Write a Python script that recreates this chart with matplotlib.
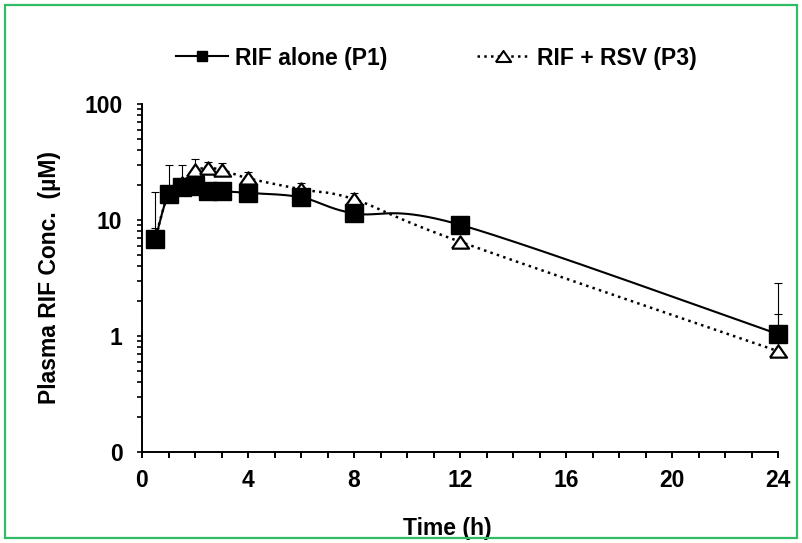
import matplotlib
matplotlib.use("Agg")
import matplotlib.pyplot as plt
import numpy as np
from matplotlib.lines import Line2D
from matplotlib.patches import Rectangle
from matplotlib.ticker import FixedLocator, FixedFormatter, LogLocator, NullFormatter

plt.rcParams["font.family"] = ["Liberation Sans", "DejaVu Sans"]
plt.rcParams["font.weight"] = "bold"

# sampling times (h)
time_h = [0.5, 1, 1.5, 2, 2.5, 3, 4, 6, 8, 12, 24]

# RIF alone (P1): mean and upper SD
p1_mean = [6.8, 16.8, 19.3, 19.5, 17.7, 17.7, 17.1, 15.7, 11.4, 9.1, 1.04]
p1_sd = [1.8, 1.5, 1.5, 1.5, 3.3, 1.5, 1.5, 1.2, 1.0, 0.8, 1.82]

# RIF + RSV (P3): mean and upper SD
p3_mean = [7.0, 16.8, 21.0, 26.8, 27.9, 27.1, 22.9, 18.4, 15.1, 6.5, 0.74]
p3_sd = [10.4, 12.9, 8.6, 7.0, 3.7, 4.1, 3.2, 2.3, 2.1, np.nan, 0.81]

x_ticks = [0, 4, 8, 12, 16, 20, 24]
y_ticks = [0.1, 1, 10, 100]
y_tick_labels = ["0", "1", "10", "100"]

FS = 16.5


def smooth_curve(x, y, n=40):
    """Excel-like smoothed line: Catmull-Rom Bezier in (x, log10 y) space."""
    px = np.asarray(x, float)
    py = np.log10(np.asarray(y, float))
    pts = np.column_stack([px, py])
    ext = np.vstack([pts[0], pts, pts[-1]])
    out = []
    s = np.linspace(0, 1, n)[:, None]
    for i in range(len(pts) - 1):
        p0, p1, p2, p3 = ext[i], ext[i + 1], ext[i + 2], ext[i + 3]
        c1 = p1 + (p2 - p0) / 6.0
        c2 = p2 - (p3 - p1) / 6.0
        seg = ((1 - s) ** 3) * p1 + 3 * ((1 - s) ** 2) * s * c1 \
            + 3 * (1 - s) * s ** 2 * c2 + s ** 3 * p2
        out.append(seg if i == 0 else seg[1:])
    seg = np.vstack(out)
    return seg[:, 0], 10 ** seg[:, 1]


tri = [(-1, -0.72), (1, -0.72), (0, 0.72), (-1, -0.72)]

fig = plt.figure(figsize=(8.02, 5.43), dpi=100)
ax = fig.add_axes([142 / 802, 91 / 543, 636 / 802, 348 / 543])

dotted = (0, (1.0, 1.7))

# P3 series
sx, sy = smooth_curve(time_h, p3_mean)
ax.plot(sx, sy, color="black", lw=1.8, linestyle=dotted, zorder=2, clip_on=False)
eb = ax.errorbar(time_h, p3_mean, yerr=[np.zeros(len(p3_sd)), p3_sd], fmt="none",
                 ecolor="black", elinewidth=0.8, capsize=3, capthick=0.8, zorder=2.1)
ax.plot(time_h, p3_mean, linestyle="none", marker=tri, ms=12.3,
        mfc="white", mec="black", mew=1.6, zorder=2.2, clip_on=False)

# P1 series
sx, sy = smooth_curve(time_h, p1_mean)
ax.plot(sx, sy, color="black", lw=1.5, zorder=3, clip_on=False)
eb2 = ax.errorbar(time_h, p1_mean, yerr=[np.zeros(len(p1_sd)), p1_sd], fmt="none",
                  ecolor="black", elinewidth=0.8, capsize=3, capthick=0.8, zorder=3.1)
ax.plot(time_h, p1_mean, linestyle="none", marker="s", ms=12.8,
        mfc="black", mec="black", mew=1, zorder=3.2, clip_on=False)

for container in (eb, eb2):
    for art in container.lines[1] + container.lines[2]:
        art.set_clip_on(False)

ax.set_yscale("log")
ax.set_xlim(0, 24)
ax.set_ylim(0.1, 100)

ax.xaxis.set_major_locator(FixedLocator(x_ticks))
ax.xaxis.set_minor_locator(FixedLocator(range(0, 25)))
ax.yaxis.set_major_locator(FixedLocator(y_ticks))
ax.yaxis.set_major_formatter(FixedFormatter(y_tick_labels))
ax.yaxis.set_minor_locator(LogLocator(base=10, subs=np.arange(2, 10)))
ax.yaxis.set_minor_formatter(NullFormatter())

for side in ["top", "right"]:
    ax.spines[side].set_visible(False)
for side in ["left", "bottom"]:
    ax.spines[side].set_linewidth(1.4)
    ax.spines[side].set_color("black")

ax.tick_params(axis="x", which="both", direction="out", length=4.3, width=1.4,
               labelsize=FS, pad=7.6)
ax.tick_params(axis="y", which="both", direction="out", length=3.6, width=1.2,
               labelsize=FS, pad=10.5)
for lab in ax.get_xticklabels() + ax.get_yticklabels():
    lab.set_fontweight("bold")

ax.set_xlabel("Time (h)", fontsize=FS, fontweight="bold")
ax.xaxis.label.set_va("baseline")
ax.xaxis.set_label_coords(0.48, -0.2385)
ax.set_ylabel("Plasma RIF Conc.  (µM)", fontsize=FS, fontweight="bold")
ax.yaxis.label.set_va("center")
ax.yaxis.set_label_coords(-0.146, 0.5)

handles = [
    Line2D([], [], color="black", lw=1.5, marker="s", ms=7, mfc="black", mec="black"),
    Line2D([], [], color="black", lw=1.8, linestyle=dotted, marker=tri, ms=11,
           mfc="white", mec="black", mew=1.5),
]
fig.legend(handles, ["RIF alone (P1)", "RIF + RSV (P3)"], loc="center",
           bbox_to_anchor=(436 / 802, 1 - 58 / 543), ncol=2, frameon=False,
           handlelength=2.3, handletextpad=0.3, columnspacing=3.9,
           prop={"weight": "bold", "size": FS})

fig.patches.append(Rectangle((5 / 802, 5 / 543), 792 / 802, 533 / 543,
                             transform=fig.transFigure, fill=False,
                             edgecolor="#30BC64", lw=1.6))

fig.savefig("out.png", dpi=100)
